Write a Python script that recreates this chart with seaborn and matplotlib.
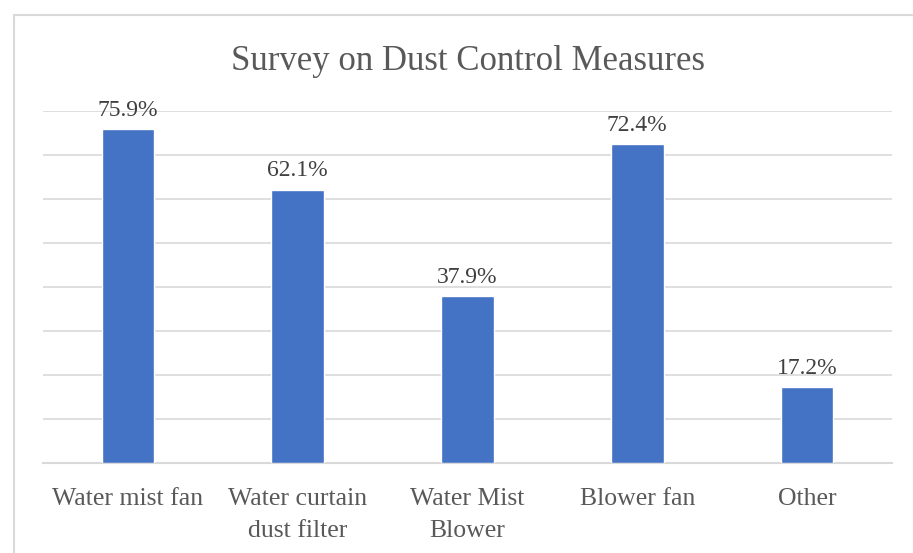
import matplotlib
matplotlib.use('Agg')
import matplotlib.pyplot as plt
import seaborn as sns
import pandas as pd
from matplotlib.patches import Rectangle

# data
categories = ["Water mist fan", "Water curtain\ndust filter", "Water Mist\nBlower", "Blower fan", "Other"]
values = [75.9, 62.1, 37.9, 72.4, 17.2]
labels = ["75.9%", "62.1%", "37.9%", "72.4%", "17.2%"]

df = pd.DataFrame({"Measure": categories, "Percent": values})

sns.set_style("white")
plt.rcParams['font.family'] = ['Liberation Serif', 'DejaVu Serif']

fig = plt.figure(figsize=(9.13, 5.53), dpi=100)
ax = fig.add_axes([43/913, 1 - 463/553, (892 - 43)/913, (463 - 111)/553])

sns.barplot(data=df, x="Measure", y="Percent", color="#4472c4", width=0.31,
            saturation=1, ax=ax, zorder=3)

ax.set_ylim(0, 80)
ax.set_yticks(range(0, 81, 10))
ax.yaxis.grid(True, color="#d9d9d9", linewidth=1.2, zorder=0)
ax.set_yticklabels([])
ax.tick_params(axis='y', length=0)
ax.set_xticks(range(len(categories)))
ax.set_xticklabels(categories, fontsize=18.5, color="#595959", linespacing=1.6)
ax.tick_params(axis='x', length=0, pad=18)
ax.set_xlabel("")
ax.set_ylabel("")
for side in ["left", "right", "top"]:
    ax.spines[side].set_visible(False)
ax.spines["bottom"].set_color("#d9d9d9")
ax.spines["bottom"].set_linewidth(1.5)

for i, (v, t) in enumerate(zip(values, labels)):
    ax.annotate(t, (i, v), xytext=(0, 6), textcoords="offset points",
                ha="center", va="bottom", fontsize=17, color="#404040")

fig.text(468/913, 1 - 61/553, "Survey on Dust Control Measures", ha="center", va="center",
         fontsize=25, color="#595959")

# chart border
fig.patches.append(Rectangle((14/913, -0.1), 2, (553 - 15)/553 + 0.1, transform=fig.transFigure,
                             fill=False, edgecolor="#d9d9d9", linewidth=1.5))

fig.savefig("out.png", dpi=100)
